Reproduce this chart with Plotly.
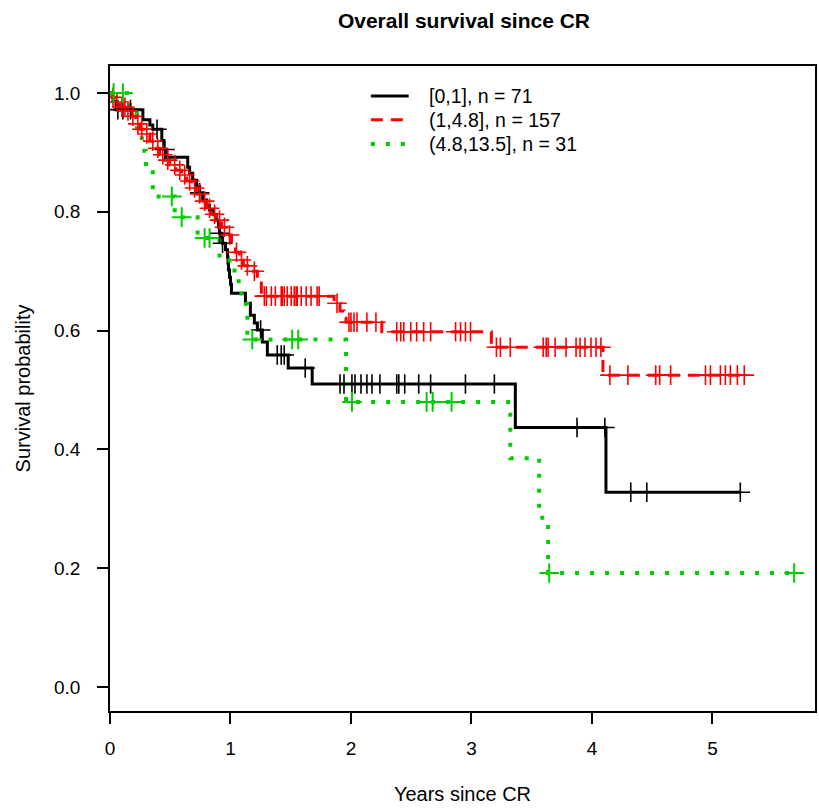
import plotly.graph_objects as go

# ---------------- data ----------------
title_text = "Overall survival since CR"
x_title = "Years since CR"
y_title = "Survival probability"

x_tick_vals = [0, 1, 2, 3, 4, 5]
y_tick_vals = [0.0, 0.2, 0.4, 0.6, 0.8, 1.0]
y_tick_text = ["0.0", "0.2", "0.4", "0.6", "0.8", "1.0"]

group_labels = ["[0,1], n = 71", "(1,4.8], n = 157", "(4.8,13.5], n = 31"]

# group 1: [0,1]
g1_event_times = [0.025, 0.050, 0.273, 0.331, 0.355, 0.430, 0.446, 0.471, 0.645, 0.661,
                  0.686, 0.719, 0.744, 0.769, 0.802, 0.826, 0.860, 0.884, 0.901, 0.909,
                  0.926, 0.934, 0.959, 0.975, 0.979, 0.983, 0.992, 1.000, 1.008, 1.124,
                  1.165, 1.198, 1.223, 1.264, 1.306, 1.479, 1.678, 3.364, 4.116]
g1_surv = [0.986, 0.972, 0.955, 0.946, 0.939, 0.920, 0.905, 0.892, 0.875, 0.865,
           0.853, 0.842, 0.832, 0.820, 0.811, 0.803, 0.795, 0.786, 0.774, 0.764,
           0.756, 0.747, 0.736, 0.724, 0.714, 0.702, 0.690, 0.678, 0.663, 0.646,
           0.626, 0.613, 0.601, 0.581, 0.559, 0.537, 0.510, 0.437, 0.328]
g1_censor_times = [0.065, 0.107, 0.170, 0.390, 0.455, 0.744, 0.909, 0.934, 1.250,
                   1.388, 1.421, 1.446, 1.620, 1.909, 1.942, 2.008, 2.033, 2.083,
                   2.132, 2.174, 2.240, 2.380, 2.397, 2.446, 2.562, 2.661, 2.950,
                   3.190, 3.876, 4.107, 4.322, 4.455, 5.231]
g1_last_time = 5.231

# group 2: (1,4.8]
g2_event_times = [0.017, 0.050, 0.083, 0.132, 0.182, 0.215, 0.248, 0.289, 0.331, 0.372,
                  0.413, 0.455, 0.496, 0.545, 0.595, 0.636, 0.678, 0.719, 0.760, 0.802,
                  0.843, 0.884, 0.926, 0.967, 1.008, 1.041, 1.074, 1.107, 1.157, 1.223,
                  1.256, 1.860, 1.909, 1.942, 1.959, 2.256, 3.165, 4.091]
g2_surv = [0.993, 0.985, 0.976, 0.970, 0.961, 0.948, 0.939, 0.931, 0.919, 0.907,
           0.896, 0.887, 0.879, 0.870, 0.862, 0.852, 0.840, 0.830, 0.818, 0.806,
           0.796, 0.786, 0.774, 0.761, 0.746, 0.732, 0.719, 0.709, 0.700, 0.680,
           0.658, 0.646, 0.633, 0.621, 0.614, 0.598, 0.572, 0.525]
g2_censor_times = [0.025, 0.058, 0.099, 0.124, 0.149, 0.190, 0.231, 0.264, 0.306, 0.355,
                   0.397, 0.438, 0.479, 0.537, 0.579, 0.620, 0.661, 0.702, 0.744, 0.785,
                   0.826, 0.868, 0.909, 0.950, 0.992, 1.050, 1.091, 1.140, 1.198,
                   1.281, 1.298, 1.339, 1.372, 1.421, 1.430, 1.446, 1.471, 1.504, 1.529,
                   1.545, 1.554, 1.587, 1.628, 1.669, 1.719, 1.736, 1.884,
                   1.983, 2.000, 2.025, 2.050, 2.132, 2.207,
                   2.380, 2.413, 2.438, 2.496, 2.545, 2.603, 2.661, 2.868, 2.909, 2.950, 2.992,
                   3.207, 3.240, 3.322, 3.595, 3.620, 3.636, 3.694, 3.785, 3.868, 3.901,
                   3.942, 3.992, 4.033, 4.074,
                   4.149, 4.298, 4.529, 4.562, 4.653, 4.942, 4.983, 5.066, 5.107, 5.149,
                   5.207, 5.264]
g2_last_time = 5.264

# group 3: (4.8,13.5]
g3_event_times = [0.165, 0.223, 0.264, 0.298, 0.355, 0.537, 0.727, 0.909, 1.033, 1.091,
                  1.140, 1.959, 3.322, 3.562, 3.636]
g3_surv = [0.968, 0.935, 0.903, 0.871, 0.826, 0.791, 0.756, 0.718, 0.683, 0.645,
           0.585, 0.480, 0.385, 0.285, 0.192]
g3_censor_times = [0.030, 0.107, 0.513, 0.595, 0.785, 0.826, 1.181, 1.512, 1.562,
                   2.008, 2.628, 2.678, 2.835, 3.645, 5.678]
g3_last_time = 5.678

# ---------------- styling ----------------
colors = ["#000000", "#ff0000", "#00cd00"]
dashes = ["solid", "12px,8px", "4px,11px"]
widths = [3, 3, 4]
FONT = "Liberation Sans, Arial, Helvetica, sans-serif"
FS = 19


def surv_at(times, surv, t):
    s = 1.0
    for ti, si in zip(times, surv):
        if ti <= t:
            s = si
        else:
            break
    return s


groups = [
    (g1_event_times, g1_surv, g1_censor_times, g1_last_time),
    (g2_event_times, g2_surv, g2_censor_times, g2_last_time),
    (g3_event_times, g3_surv, g3_censor_times, g3_last_time),
]

fig = go.Figure()
for i, (et, sv, ct, last) in enumerate(groups):
    xs = [0.0] + list(et) + [last]
    ys = [1.0] + list(sv) + [sv[-1]]
    fig.add_trace(go.Scatter(
        x=xs, y=ys, mode="lines", line_shape="hv",
        line=dict(color=colors[i], width=widths[i], dash=dashes[i]),
        name=group_labels[i], showlegend=False, hoverinfo="skip"))
for i, (et, sv, ct, last) in enumerate(groups):
    fig.add_trace(go.Scatter(
        x=ct, y=[surv_at(et, sv, t) for t in ct], mode="markers",
        marker=dict(symbol="cross-thin", size=14, color=colors[i],
                    line=dict(color=colors[i], width=1.6 if i < 2 else 2)),
        showlegend=False, hoverinfo="skip"))

# manual legend (line sample + text)
leg_y = [0.9535, 0.9165, 0.879]
for i in range(3):
    fig.add_shape(type="line", xref="paper", yref="paper",
                  x0=0.370, x1=0.4237, y0=leg_y[i], y1=leg_y[i],
                  line=dict(color=colors[i], width=widths[i], dash=dashes[i]))
    fig.add_annotation(xref="paper", yref="paper", x=0.449, y=leg_y[i],
                       text=group_labels[i], showarrow=False, xanchor="left",
                       yanchor="middle", font=dict(size=19.5, color="#000", family=FONT))

axis_common = dict(showline=True, linecolor="black", linewidth=1.5, mirror=True,
                   ticks="outside", ticklen=11, tickwidth=1.5, tickcolor="black",
                   showgrid=False, zeroline=False,
                   tickfont=dict(size=FS, color="#000", family=FONT))

fig.update_xaxes(range=[0, 5.851], tickvals=x_tick_vals,
                 ticktext=[str(v) for v in x_tick_vals],
                 title=dict(text=x_title, font=dict(size=20, color="#000", family=FONT), standoff=29),
                 ticklabelstandoff=8, **axis_common)
fig.update_yaxes(range=[-0.0404, 1.0455], tickvals=y_tick_vals, ticktext=y_tick_text,
                 title=dict(text=y_title, font=dict(size=20, color="#000", family=FONT), standoff=18),
                 ticklabelstandoff=13, **axis_common)

fig.update_layout(
    width=819, height=812,
    margin=dict(l=110, r=2, t=66, b=101, pad=0),
    paper_bgcolor="white", plot_bgcolor="white",
    title=dict(text="<b>" + title_text + "</b>", x=0.5665, xanchor="center",
               y=0.975, yanchor="middle",
               font=dict(size=21, color="#000", family=FONT)),
    showlegend=False,
)

fig.write_html("out.html")
